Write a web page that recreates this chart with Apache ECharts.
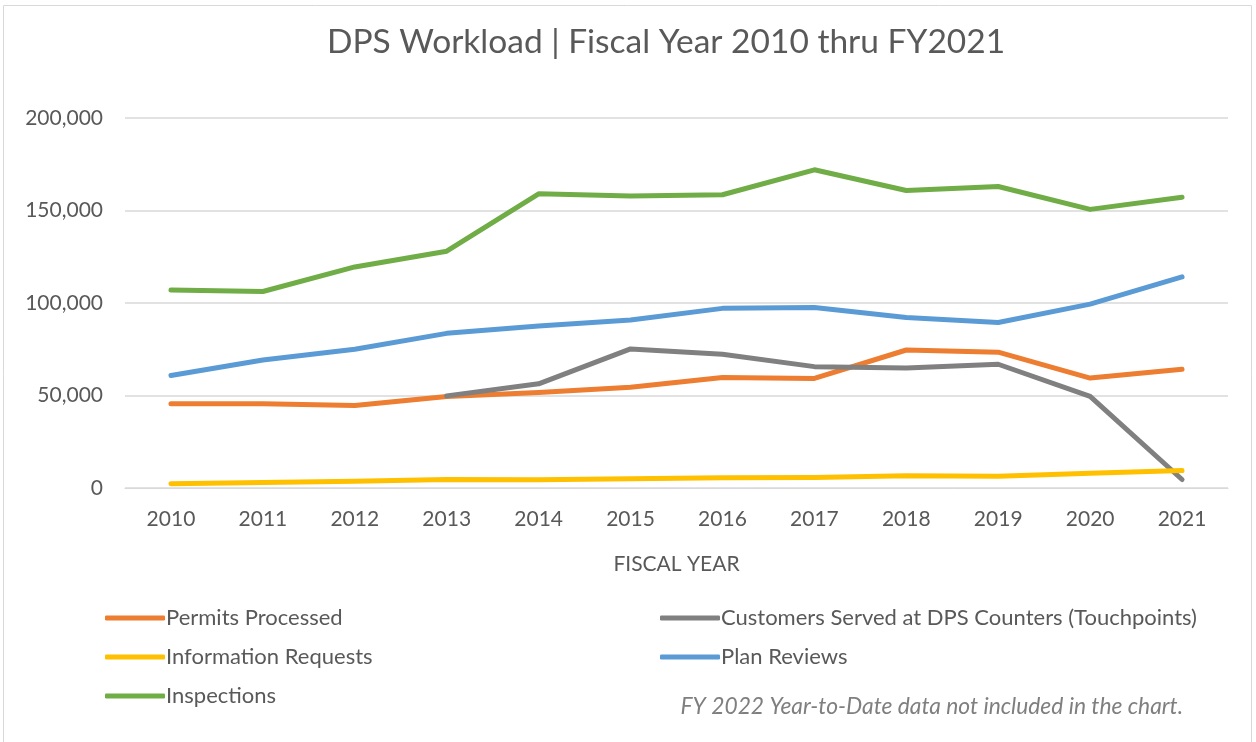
<!DOCTYPE html>
<html>
<head>
<meta charset="utf-8">
<script src="https://cdn.jsdelivr.net/npm/echarts@6/dist/echarts.min.js"></script>
<style>
  html, body { margin: 0; padding: 0; background: #fff; }
  #chart { width: 1256px; height: 742px; }
</style>
</head>
<body>
<div id="chart"></div>
<script>
var years = ['2010', '2011', '2012', '2013', '2014', '2015', '2016', '2017', '2018', '2019', '2020', '2021'];
var permits = [45500, 45500, 44600, 49500, 51600, 54500, 59700, 59200, 74600, 73400, 59400, 64200];
var customers = [null, null, null, 49800, 56300, 75200, 72300, 65600, 64800, 66900, 49500, 4600];
var infoRequests = [2300, 3000, 3600, 4600, 4500, 5000, 5500, 5700, 6600, 6400, 8000, 9400];
var planReviews = [60800, 69200, 75000, 83600, 87600, 90800, 97100, 97600, 92200, 89500, 99400, 114100];
var inspections = [107000, 106200, 119500, 128000, 159000, 157800, 158500, 172000, 160800, 163000, 150600, 157200];

var font = 'Lato, "Open Sans", sans-serif';
var txt = '#595959';

function line (name, data, color) {
  return {
    name: name,
    type: 'line',
    data: data,
    symbol: 'none',
    connectNulls: false,
    lineStyle: { width: 5, color: color, cap: 'round', join: 'round' },
    itemStyle: { color: color }
  };
}

var chartDom = document.getElementById('chart');
var myChart = echarts.init(chartDom);
var option;

option = {
  animation: false,
  textStyle: { fontFamily: font },
  title: {
    text: 'DPS Workload | Fiscal Year 2010 thru FY2021',
    left: 322,
    top: 20,
    textStyle: { fontSize: 33.5, fontWeight: 'normal', color: txt, fontFamily: font }
  },
  graphic: [
    {
      type: 'rect',
      shape: { x: 3.5, y: 5.5, width: 1248, height: 745 },
      style: { fill: 'none', stroke: '#d9d9d9', lineWidth: 1 },
      silent: true
    },
    {
      type: 'text',
      right: 73,
      top: 695,
      style: {
        text: 'FY 2022 Year-to-Date data not included in the chart.',
        font: 'italic 22.8px ' + font,
        fill: '#7f7f7f'
      }
    }
  ],
  legend: [
    {
      left: 105,
      top: 607,
      padding: 0,
      orient: 'vertical',
      itemWidth: 60,
      itemHeight: 5,
      itemGap: 17,
      icon: 'roundRect',
      data: ['Permits Processed', 'Information Requests', 'Inspections'],
      textStyle: { fontSize: 22, color: txt, fontFamily: font, padding: [0, 0, 0, -4] }
    },
    {
      left: 660,
      top: 607,
      padding: 0,
      orient: 'vertical',
      itemWidth: 60,
      itemHeight: 5,
      itemGap: 17,
      icon: 'roundRect',
      data: ['Customers Served at DPS Counters (Touchpoints)', 'Plan Reviews'],
      textStyle: { fontSize: 22, color: txt, fontFamily: font, padding: [0, 0, 0, -4] }
    }
  ],
  grid: { left: 125, right: 28, top: 118, bottom: 254 },
  xAxis: {
    type: 'category',
    data: years,
    boundaryGap: true,
    name: 'FISCAL YEAR',
    nameLocation: 'middle',
    nameGap: 66,
    nameTextStyle: { fontSize: 21, color: txt, fontFamily: font },
    axisLine: { show: true, lineStyle: { color: '#d9d9d9', width: 1 } },
    axisTick: { show: false },
    axisLabel: { fontSize: 21, color: txt, margin: 21, fontFamily: font }
  },
  yAxis: {
    type: 'value',
    min: 0,
    max: 200000,
    interval: 50000,
    axisLine: { show: false },
    axisTick: { show: false },
    splitLine: { lineStyle: { color: '#d9d9d9', width: 1.5 } },
    axisLabel: {
      fontSize: 21,
      color: txt,
      margin: 22,
      fontFamily: font,
      formatter: function (v) { return v.toLocaleString('en-US'); }
    }
  },
  series: [
    line('Permits Processed', permits, '#ED7D31'),
    line('Customers Served at DPS Counters (Touchpoints)', customers, '#808080'),
    line('Information Requests', infoRequests, '#FFC000'),
    line('Plan Reviews', planReviews, '#5B9BD5'),
    line('Inspections', inspections, '#70AD47')
  ]
};

option && myChart.setOption(option);
</script>
</body>
</html>
